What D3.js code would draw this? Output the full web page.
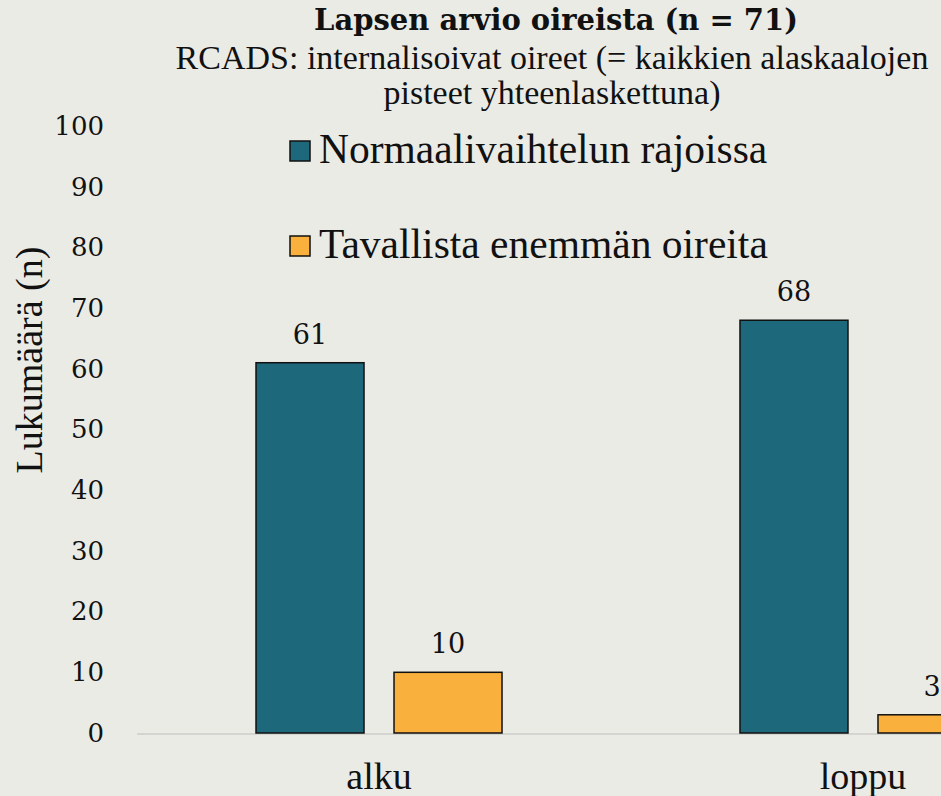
<!DOCTYPE html>
<html>
<head>
  <meta charset="utf-8">
  <style>
    body { margin: 0; background: #ebebe6; }
    svg { display: block; }
    .serif { font-family: "Liberation Serif", "Times New Roman", serif; fill: #111; }
    .num { font-family: "DejaVu Serif", serif; fill: #111; }
  </style>
  <script src="https://d3js.org/d3.v7.min.js"></script>
</head>
<body>
<div class="chart"></div>
<script>
const categories = ['alku', 'loppu'];
const seriesNames = ['Normaalivaihtelun rajoissa', 'Tavallista enemmän oireita'];
const normalValues = [61, 68];
const elevatedValues = [10, 3];
const yTicks = [0, 10, 20, 30, 40, 50, 60, 70, 80, 90, 100];
const colours = ['#1e687b', '#f9b03c'];

const width = 941;
const height = 796;

const svg = d3.select('.chart')
  .append('svg')
  .attr('width', width)
  .attr('height', height);

svg.append('rect')
  .attr('width', width)
  .attr('height', height)
  .attr('fill', '#ebebe6');

const rows = categories.map((c, i) => ({
  category: c,
  values: [normalValues[i], elevatedValues[i]]
}));

const y = d3.scaleLinear().domain([0, 100]).range([733, 126]);

// two groups, only part of the second fits in the window
const x = d3.scaleBand()
  .domain(categories)
  .range([137, 1105])
  .paddingInner(0.4917)
  .paddingOuter(0.2459);

const xSeries = d3.scaleBand()
  .domain(d3.range(seriesNames.length))
  .range([0, x.bandwidth()])
  .paddingInner(0.2174);

// baseline
svg.append('line')
  .attr('x1', x.range()[0])
  .attr('x2', width)
  .attr('y1', y(0) + 1)
  .attr('y2', y(0) + 1)
  .attr('stroke', '#d4d4d0')
  .attr('stroke-width', 2);

// y axis labels
const yAxis = d3.axisLeft(y).tickValues(yTicks).tickSize(0).tickPadding(0);
svg.append('g')
  .attr('transform', 'translate(104,0)')
  .call(yAxis)
  .call(g => g.select('.domain').remove())
  .call(g => g.selectAll('text')
    .attr('class', 'num')
    .attr('font-size', 26)
    .attr('font-family', null)
    .attr('fill', '#111'));

svg.append('text')
  .attr('class', 'serif')
  .attr('transform', 'translate(42,360) rotate(-90)')
  .attr('text-anchor', 'middle')
  .attr('font-size', 38)
  .text('Lukumäärä (n)');

// bars
const groups = svg.selectAll('g.group')
  .data(rows)
  .enter()
  .append('g')
  .attr('class', 'group')
  .attr('transform', d => `translate(${x(d.category)},0)`);

groups.selectAll('rect')
  .data(d => d.values)
  .enter()
  .append('rect')
  .attr('x', (d, i) => xSeries(i))
  .attr('y', d => y(d))
  .attr('width', xSeries.bandwidth())
  .attr('height', d => y(0) - y(d))
  .attr('fill', (d, i) => colours[i])
  .attr('stroke', '#111')
  .attr('stroke-width', 1.5);

groups.selectAll('text.value')
  .data(d => d.values)
  .enter()
  .append('text')
  .attr('class', 'num value')
  .attr('x', (d, i) => xSeries(i) + xSeries.bandwidth() / 2)
  .attr('y', d => y(d) - 19)
  .attr('text-anchor', 'middle')
  .attr('font-size', 27)
  .text(d => d);

// category labels
svg.selectAll('text.cat')
  .data(categories)
  .enter()
  .append('text')
  .attr('class', 'serif cat')
  .attr('x', d => x(d) + x.bandwidth() / 2)
  .attr('y', 789)
  .attr('text-anchor', 'middle')
  .attr('font-size', 38)
  .text(d => d);

// titles
svg.append('text')
  .attr('class', 'num')
  .attr('x', 556)
  .attr('y', 30)
  .attr('text-anchor', 'middle')
  .attr('font-size', 29)
  .attr('font-weight', 'bold')
  .text('Lapsen arvio oireista (n = 71)');

const subtitle = ['RCADS: internalisoivat oireet (= kaikkien alaskaalojen', 'pisteet yhteenlaskettuna)'];
svg.selectAll('text.sub')
  .data(subtitle)
  .enter()
  .append('text')
  .attr('class', 'serif sub')
  .attr('x', 552)
  .attr('y', (d, i) => 69 + i * 35)
  .attr('text-anchor', 'middle')
  .attr('font-size', 34)
  .text(d => d);

// legend
const legend = svg.append('g')
  .attr('transform', 'translate(290,141)')
  .selectAll('g')
  .data(seriesNames)
  .enter()
  .append('g')
  .attr('transform', (d, i) => `translate(0,${i * 95})`);

legend.append('rect')
  .attr('width', 20)
  .attr('height', 20)
  .attr('fill', (d, i) => colours[i])
  .attr('stroke', '#111')
  .attr('stroke-width', 1.5);

legend.append('text')
  .attr('class', 'serif')
  .attr('x', 29)
  .attr('y', 22)
  .attr('font-size', 41.5)
  .text(d => d);
</script>
</body>
</html>
